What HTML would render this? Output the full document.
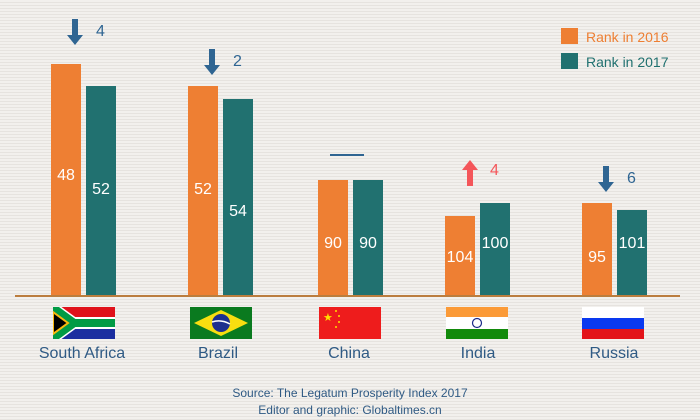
<!DOCTYPE html>
<html><head><meta charset="utf-8"><style>
body{margin:0;background:#f0eeea;}
svg{display:block}
</style></head><body>
<svg width="700" height="420" xmlns="http://www.w3.org/2000/svg" font-family="Liberation Sans, sans-serif">
<defs><pattern id="st" width="4" height="3" patternUnits="userSpaceOnUse"><rect width="4" height="3" fill="#f2f0ed"/><rect y="2" width="4" height="1" fill="#e6e3df"/></pattern>
<clipPath id="fc"><rect width="62" height="32"/></clipPath></defs>
<rect width="700" height="420" fill="url(#st)"/>
<g fill="#ee7f33"><rect x="51" y="64" width="30" height="232"/><rect x="188" y="86" width="30" height="210"/><rect x="318" y="180" width="30" height="116"/><rect x="445" y="216" width="30" height="80"/><rect x="582" y="203" width="30" height="93"/></g>
<g fill="#217170"><rect x="86" y="86" width="30" height="210"/><rect x="223" y="99" width="30" height="197"/><rect x="353" y="180" width="30" height="116"/><rect x="480" y="203" width="30" height="93"/><rect x="617" y="210" width="30" height="86"/></g>
<rect x="15" y="295" width="665" height="2" fill="#bb7d3e"/>
<g fill="#fff" font-size="16" text-anchor="middle">
<text x="66" y="180">48</text><text x="101" y="194">52</text>
<text x="203" y="194">52</text><text x="238" y="216">54</text>
<text x="333" y="248">90</text><text x="368" y="248">90</text>
<text x="460" y="262">104</text><text x="495" y="248">100</text>
<text x="597" y="262">95</text><text x="632" y="248">101</text>
</g>
<g fill="#2f6592">
<path d="M72 19h6v16h5l-8 10l-8-10h5z"/><path d="M209 49h6v16h5l-8 10l-8-10h5z"/><path d="M603 166h6v16h5l-8 10l-8-10h5z"/>
<rect x="330" y="154" width="34" height="2"/>
</g>
<path d="M467 186h6v-16h5l-8-10l-8 10h5z" fill="#f4565a"/>
<g font-size="16" fill="#2f6592"><text x="96" y="36">4</text><text x="233" y="66">2</text><text x="627" y="183">6</text></g>
<text x="490" y="175" font-size="16" fill="#f4565a">4</text>
<rect x="561" y="28" width="17" height="16" fill="#ee7f33"/><text x="586" y="42" font-size="14" fill="#ee7f33">Rank in 2016</text>
<rect x="561" y="53" width="17" height="16" fill="#217170"/><text x="586" y="67" font-size="14" fill="#217170">Rank in 2017</text>
<g transform="translate(53,307)"><g clip-path="url(#fc)">
<rect width="62" height="32" fill="#fff"/><rect width="62" height="10" fill="#e0121b"/><rect y="22" width="62" height="10" fill="#1b2ea0"/>
<path d="M0 0L22 16L0 32" fill="none" stroke="#fff" stroke-width="10"/>
<rect x="18" y="12" width="44" height="8" fill="#019b45"/>
<path d="M0 0L22 16L0 32" fill="none" stroke="#019b45" stroke-width="7"/>
<path d="M0 5L15 16L0 27z" fill="#000" stroke="#f9b80f" stroke-width="2"/>
</g></g>
<g transform="translate(190,307)"><rect width="62" height="32" fill="#0a7a1f"/><path d="M31 3L58 16L31 29L4 16z" fill="#f8de10"/><circle cx="31" cy="16" r="9" fill="#1d2f8e"/><path d="M22 15q9-3 18 2" stroke="#fff" stroke-width="1.5" fill="none"/></g>
<g transform="translate(319,307)"><rect width="62" height="32" fill="#ee1c1c"/><text x="4" y="14" font-size="11" fill="#ffde00">★</text><g fill="#ffde00"><circle cx="17" cy="4" r="1"/><circle cx="20" cy="9" r="1"/><circle cx="20" cy="15" r="1"/><circle cx="17" cy="20" r="1"/></g></g>
<g transform="translate(446,307)"><rect width="62" height="32" fill="#fff"/><rect width="62" height="10" fill="#fb9a37"/><rect y="22" width="62" height="10" fill="#128a0b"/><circle cx="31" cy="16" r="4.5" fill="none" stroke="#1b2a88" stroke-width="1.2"/></g>
<g transform="translate(582,307)"><rect width="62" height="11" fill="#fff"/><rect y="11" width="62" height="11" fill="#0a39f0"/><rect y="22" width="62" height="10" fill="#e3141a"/></g>
<g font-size="16" fill="#2f5a84" text-anchor="middle">
<text x="82" y="358">South Africa</text><text x="218" y="358">Brazil</text><text x="349" y="358">China</text><text x="478" y="358">India</text><text x="614" y="358">Russia</text>
</g>
<g font-size="12" fill="#2f5a84" text-anchor="middle"><text x="350" y="397">Source: The Legatum Prosperity Index 2017</text><text x="350" y="414">Editor and graphic: Globaltimes.cn</text></g>
</svg>
</body></html>
